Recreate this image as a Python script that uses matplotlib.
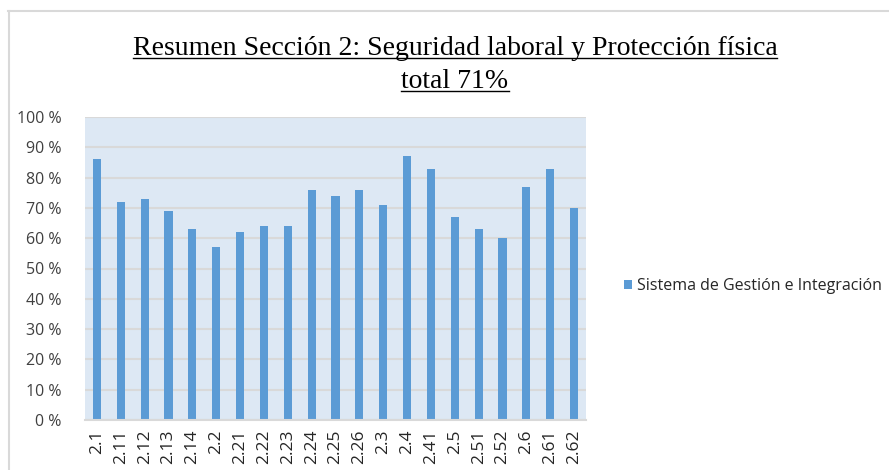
import matplotlib.pyplot as plt
import numpy as np
from matplotlib.lines import Line2D
from matplotlib.patches import Patch

# data
categorias = ['2.1', '2.11', '2.12', '2.13', '2.14', '2.2', '2.21', '2.22', '2.23', '2.24',
              '2.25', '2.26', '2.3', '2.4', '2.41', '2.5', '2.51', '2.52', '2.6', '2.61', '2.62']
valores = [86, 72, 73, 69, 63, 57, 62, 64, 64, 76, 74, 76, 71, 87, 83, 67, 63, 60, 77, 83, 70]
serie = 'Sistema de Gestión e Integración'
titulo1 = 'Resumen Sección 2: Seguridad laboral y Protección física'
titulo2 = 'total 71%'

W, H = 889, 470
azul = '#5b9bd5'
gris = '#d9d9d9'
texto = '#404040'

plt.rcParams['font.family'] = ['Open Sans', 'DejaVu Sans']

fig = plt.figure(figsize=(W / 100, H / 100), dpi=100)

# marco exterior
fig.add_artist(Line2D([8.5 / W, 8.5 / W], [0, 1 - 10.5 / H], transform=fig.transFigure, color=gris, lw=1.5))
fig.add_artist(Line2D([8 / W, 1], [1 - 10.5 / H, 1 - 10.5 / H], transform=fig.transFigure, color=gris, lw=1.5))

ax = fig.add_axes([85 / W, 1 - 420 / H, 501 / W, 303 / H])
ax.set_facecolor('#dde8f4')
x = np.arange(len(categorias))
ax.bar(x, valores, width=0.34, color=azul, zorder=3)
ax.set_xlim(-0.5, len(categorias) - 0.5)
ax.set_ylim(0, 100)
ax.set_yticks(range(0, 101, 10))
ax.set_yticklabels([f'{v} %' for v in range(0, 101, 10)], fontsize=11.5, color=texto)
ax.set_xticks(x)
ax.set_xticklabels(categorias, rotation=90, fontsize=12.5, color='#262626')
ax.tick_params(axis='both', length=0)
ax.tick_params(axis='y', pad=17)
ax.tick_params(axis='x', pad=7)
ax.grid(axis='y', color=gris, lw=1.5, zorder=1)
for s in ['left', 'right', 'top']:
    ax.spines[s].set_visible(False)
ax.spines['bottom'].set_color(gris)
ax.spines['bottom'].set_linewidth(1.5)
ax.spines['bottom'].set_zorder(4)

# leyenda
fig.legend(handles=[Patch(facecolor=azul, label=serie)], loc='center left',
           bbox_to_anchor=(610 / W, 1 - 286 / H), frameon=False, fontsize=11.5,
           handlelength=0.5, handleheight=0.5, handletextpad=0.3, labelcolor='#262626')

# titulo subrayado
t1 = fig.text(455 / W, 1 - 55 / H, titulo1, ha='center', va='baseline',
              family='Liberation Serif', fontsize=20, color='#000000')
t2 = fig.text(455 / W, 1 - 88 / H, titulo2, ha='center', va='baseline',
              family='Liberation Serif', fontsize=20, color='#000000')
fig.canvas.draw()
r = fig.canvas.get_renderer()
for t, yb in [(t1, 55), (t2, 88)]:
    bb = t.get_window_extent(r)
    yy = 1 - (yb + 3) / H
    fig.add_artist(Line2D([bb.x0 / W, bb.x1 / W], [yy, yy], transform=fig.transFigure,
                          color='#000000', lw=1.0))

fig.savefig('out.png', dpi=100)
